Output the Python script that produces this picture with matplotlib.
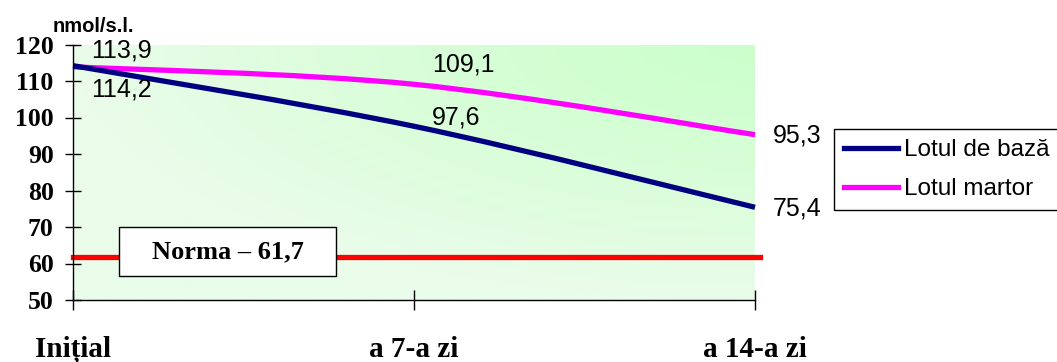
import numpy as np
import matplotlib
matplotlib.use("Agg")
import matplotlib.pyplot as plt
from matplotlib.path import Path
from matplotlib.patches import PathPatch, Rectangle
from matplotlib.lines import Line2D

# Series values (nmol/s.l.)
zile = ["Inițial", "a 7-a zi", "a 14-a zi"]
lotul_baza = [114.2, 97.6, 75.4]
lotul_martor = [113.9, 109.1, 95.3]
norma = 61.7

# label offsets (points) for each value, base then martor
off_baza = [(13, -17), (13, 6), (13, -1)]
off_martor = [(13, 11.5), (13, 14.5), (13, -0.7)]

SERIF = ["Liberation Serif", "DejaVu Serif"]
SANS = ["Liberation Sans", "DejaVu Sans"]


def smooth_path(xs, ys):
    # cubic bezier through the points, like a spreadsheet "smoothed line"
    pts = np.column_stack([xs, ys]).astype(float)
    n = len(pts)
    verts = [pts[0]]
    codes = [Path.MOVETO]
    for i in range(n - 1):
        p0 = pts[max(i - 1, 0)]
        p1 = pts[i]
        p2 = pts[i + 1]
        p3 = pts[min(i + 2, n - 1)]
        c1 = p1 + (p2 - p0) / 6.0
        c2 = p2 - (p3 - p1) / 6.0
        verts += [c1, c2, p2]
        codes += [Path.CURVE4] * 3
    return Path(verts, codes)


fig = plt.figure(figsize=(10.57, 3.62), dpi=100)
ax = fig.add_axes([73 / 1057, 1 - 300 / 362, 682 / 1057, 255.5 / 362])
x = np.arange(len(zile))

ax.set_xlim(0, 2)
ax.set_ylim(50, 120)

# background gradient, darkest in the upper right corner
h, w = 200, 400
gx, gy = np.meshgrid(np.linspace(0, 1, w), np.linspace(1, 0, h))
d = np.clip(np.sqrt((1 - gx) ** 2 + (1 - gy) ** 2), 0, 1) ** 1.3
dark = np.array([0xcc, 0xff, 0xcc]) / 255
light = np.array([0xea, 0xfc, 0xea]) / 255
img = dark[None, None, :] + (light - dark)[None, None, :] * d[:, :, None]
ax.imshow(img, extent=[0, 2, 50, 120], aspect="auto", zorder=0, origin="upper")

# norm line and its box
ax.axhline(norma, xmin=0, xmax=1.008, color="#ff0000", lw=3.8, clip_on=False, zorder=2)
ax.add_patch(Rectangle((0.0674, 0.094), 0.318, 0.192, transform=ax.transAxes,
                       facecolor="white", edgecolor="black", lw=1.0, zorder=3))
ax.text(0.2265, 0.19, "Norma – 61,7", transform=ax.transAxes, ha="center", va="center",
        fontsize=19, fontweight="bold", family=SERIF, zorder=4)

# series
for vals, col, offs in [(lotul_martor, "#ff00ff", off_martor), (lotul_baza, "#000080", off_baza)]:
    ax.add_patch(PathPatch(smooth_path(x, vals), facecolor="none", edgecolor=col,
                           lw=3.8, capstyle="butt", zorder=5, clip_on=False))
    for xi, v, (dx, dy) in zip(x, vals, offs):
        ax.annotate(f"{v:.1f}".replace(".", ","), (xi, v), xytext=(dx, dy),
                    textcoords="offset points", ha="left", va="center",
                    fontsize=18, family=SANS, annotation_clip=False, zorder=6)

for s in ["top", "right"]:
    ax.spines[s].set_visible(False)
for s in ["left", "bottom"]:
    ax.spines[s].set_linewidth(1.0)
    ax.spines[s].set_zorder(7)

ax.set_yticks(range(50, 121, 10))
ax.set_xticks(x)
ax.set_xticklabels(zile)
ax.tick_params(axis="y", direction="inout", length=12, width=1, pad=8)
ax.tick_params(axis="x", direction="inout", length=14, width=1, pad=19)
for lab in ax.get_yticklabels():
    lab.set_fontsize(18.5)
    lab.set_fontweight("bold")
    lab.set_family(SERIF)
for lab in ax.get_xticklabels():
    lab.set_fontsize(21)
    lab.set_fontweight("bold")
    lab.set_family(SERIF)

fig.text(53 / 1057, 1 - 32 / 362, "nmol/s.l.", fontsize=14.5, fontweight="bold",
         family=SANS, ha="left", va="baseline")

handles = [Line2D([], [], color="#000080", lw=3.8),
           Line2D([], [], color="#ff00ff", lw=3.8)]
leg = fig.legend(handles, ["Lotul de bază", "Lotul martor"], loc="upper left",
                 bbox_to_anchor=(834 / 1057, 1 - 129 / 362), borderaxespad=0,
                 fancybox=False, edgecolor="black", framealpha=1,
                 prop={"family": SANS, "size": 17.5}, handlelength=2.2,
                 handletextpad=0.25, borderpad=0.42, labelspacing=0.7)
leg.get_frame().set_linewidth(1.0)

fig.savefig("out.png", dpi=100)
